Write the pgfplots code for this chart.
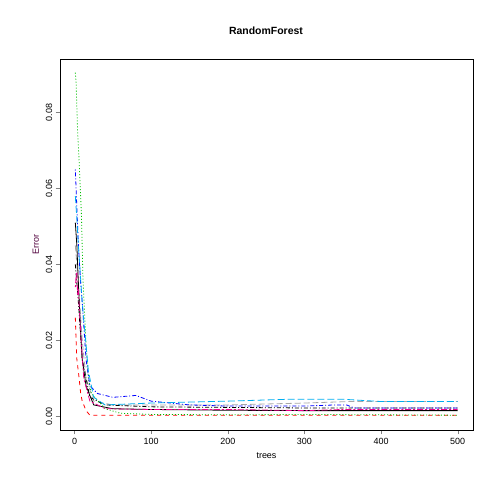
\documentclass[border=0pt]{standalone}
\usepackage{pgfplots}
\pgfplotsset{compat=1.18}
\usepackage{fontspec}
\setmainfont{Liberation Sans}
\begin{document}
\begin{tikzpicture}
\node[font=\bfseries\fontsize{10.5}{12}\selectfont] at (266bp,473bp) {RandomForest};
\begin{axis}[at={(60bp,74bp)},anchor=south west,scale only axis,width=413bp,height=371bp,
 xmin=-19,xmax=520,ymin=-0.0036,ymax=0.0941,
 xtick={0,100,...,500},ytick={0,0.02,0.04,0.06,0.08},
 yticklabel style={rotate=90,/pgf/number format/fixed,/pgf/number format/fixed zerofill,/pgf/number format/precision=2},
 scaled y ticks=false,
 tick align=outside,xtick pos=bottom,ytick pos=left,
 /pgf/number format/assume math mode=true,
 tick label style={font=\fontsize{9}{10}\selectfont},
 xlabel={trees},ylabel={Error},
 label style={font=\fontsize{9}{10}\selectfont},
 xlabel style={yshift=-2bp},
 ylabel style={color={rgb,255:red,80;green,0;blue,60}},
 every axis plot/.append style={line width=0.8pt},
]
\addplot[gray!70,dash pattern=on 6pt off 3pt] coordinates {(1,0.045)(5,0.035)(10,0.02)(15,0.01)(25,0.004)(50,0.003)(100,0.003)(200,0.003)(300,0.0035)(360,0.0039)(500,0.0039)};
\addplot[black,dash pattern=on 4pt off 2pt on 1pt off 2pt] coordinates {(1,0.04)(5,0.03)(10,0.015)(20,0.005)(40,0.003)(100,0.0025)(300,0.0022)(500,0.0022)};
\addplot[black] coordinates {(1,0.051)(3,0.045)(5,0.035)(8,0.022)(10,0.015)(15,0.008)(25,0.003)(50,0.002)(100,0.0018)(200,0.0016)(300,0.0015)(500,0.0015)};
\addplot[red,dash pattern=on 4pt off 4pt] coordinates {(1,0.026)(2,0.02)(3,0.015)(6,0.01)(8,0.006)(10,0.004)(15,0.0015)(20,0.0003)(500,0.0003)};
\addplot[green!75!black,dash pattern=on 1pt off 2pt] coordinates {(1,0.0905)(2,0.088)(4,0.075)(6,0.067)(9,0.053)(11,0.036)(15,0.019)(18,0.010)(22,0.006)(40,0.002)(60,0.0008)(100,0.0005)(200,0.0004)(300,0.0005)(500,0.0003)};
\addplot[blue,dash pattern=on 1pt off 2pt on 4pt off 2pt] coordinates {(1,0.065)(3,0.055)(5,0.045)(8,0.035)(10,0.03)(15,0.015)(20,0.008)(30,0.006)(50,0.005)(80,0.0055)(100,0.004)(150,0.003)(200,0.0027)(300,0.0027)(340,0.003)(355,0.003)(365,0.0022)(500,0.0022)};
\addplot[cyan,dash pattern=on 7pt off 3pt] coordinates {(1,0.058)(3,0.052)(5,0.045)(10,0.03)(18,0.012)(25,0.005)(40,0.003)(100,0.0035)(200,0.004)(280,0.0045)(350,0.0045)(400,0.0039)(500,0.0039)};
\addplot[magenta,dash pattern=on 2pt off 2pt on 6pt off 2pt] coordinates {(1,0.034)(2,0.037)(3,0.038)(4,0.032)(5,0.033)(8,0.022)(12,0.01)(20,0.004)(40,0.002)(100,0.0018)(200,0.0018)(300,0.0015)(350,0.0018)(500,0.0018)};
\end{axis}
\pgfresetboundingbox
\path (0,0) rectangle (504bp,504bp);
\end{tikzpicture}
\end{document}
